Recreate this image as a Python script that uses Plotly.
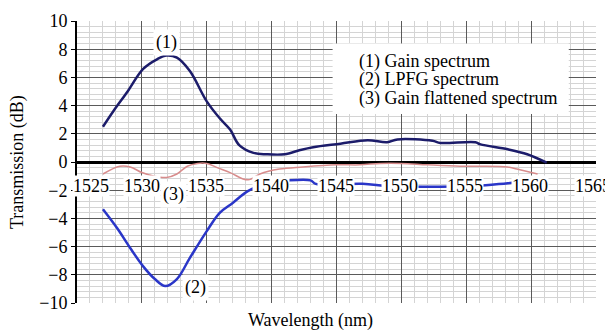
import plotly.graph_objects as go

# ---- data ----
gain_wl = [1527.0, 1527.8, 1528.9, 1530.1, 1531.2, 1531.9, 1532.7, 1533.7, 1535.0, 1536.0,
           1536.8, 1537.5, 1538.6, 1539.6, 1541.0, 1542.2, 1543.2, 1545.3, 1547.4, 1548.9,
           1549.7, 1552.4, 1553.0, 1555.7, 1556.1, 1558.2, 1559.7, 1561.2]
gain_db = [2.5, 3.6, 5.0, 6.6, 7.3, 7.55, 7.4, 6.45, 4.3, 3.1,
           2.3, 1.2, 0.65, 0.55, 0.55, 0.85, 1.05, 1.3, 1.55, 1.4,
           1.6, 1.5, 1.35, 1.4, 1.25, 0.9, 0.55, -0.05]

lpfg_wl = [1527.0, 1528.1, 1529.1, 1530.1, 1531.0, 1531.8, 1532.7, 1533.7, 1535.0, 1536.0,
           1537.0, 1538.2, 1539.5, 1541.4, 1543.0, 1543.4, 1547.0, 1549.0, 1552.0, 1553.0,
           1556.5, 1558.2, 1561.0]
lpfg_db = [-3.35, -4.7, -6.1, -7.4, -8.3, -8.8, -8.3, -6.8, -4.9, -3.6,
           -2.9, -2.05, -1.6, -1.3, -1.3, -1.55, -1.55, -1.7, -1.75, -1.75,
           -1.65, -1.5, -1.3]

flat_wl = [1527.0, 1528.3, 1529.1, 1530.0, 1530.9, 1531.9, 1532.7, 1533.5, 1534.3, 1535.0,
           1535.8, 1536.8, 1537.8, 1538.3, 1539.1, 1540.6, 1542.4, 1545.0, 1546.8, 1548.4,
           1550.0, 1552.0, 1554.5, 1556.0, 1558.2, 1558.9, 1560.5]
flat_db = [-0.85, -0.3, -0.35, -0.75, -1.0, -1.1, -0.85, -0.3, -0.1, -0.1,
           -0.4, -0.75, -1.2, -1.25, -0.85, -0.5, -0.35, -0.2, -0.2, -0.1,
           -0.1, -0.2, -0.3, -0.3, -0.35, -0.5, -0.85]

x_ticks = [1525, 1530, 1535, 1540, 1545, 1550, 1555, 1560, 1565]
x_tick_labels = ["1525", "1530", "1535", "1540", "1545", "1550", "1555", "1560", "1565"]
legend_lines = ["(1) Gain spectrum", "(2) LPFG spectrum", "(3) Gain flattened spectrum"]
curve_labels = ["(1)", "(2)", "(3)"]

FONT = "Liberation Serif, Times New Roman, serif"
FS = 18

fig = go.Figure()
fig.add_trace(go.Scatter(x=flat_wl, y=flat_db, mode="lines",
                         line=dict(color="#d88c8c", width=1.5, shape="spline"), showlegend=False))
fig.add_trace(go.Scatter(x=lpfg_wl, y=lpfg_db, mode="lines",
                         line=dict(color="#2a36c8", width=2.5, shape="spline"), showlegend=False))
fig.add_trace(go.Scatter(x=gain_wl, y=gain_db, mode="lines",
                         line=dict(color="#1c1c6a", width=2.5, shape="spline"), showlegend=False))

# legend box
fig.add_shape(type="rect", x0=1544.7, x1=1562.9, y0=3.4, y1=8.4, xref="x", yref="y",
              fillcolor="white", line=dict(width=0), layer="above")
for i, txt in enumerate(legend_lines):
    fig.add_annotation(x=1546.6, y=[7.16, 5.82, 4.47][i], xref="x", yref="y", text=txt,
                       showarrow=False, xanchor="left", yanchor="middle",
                       font=dict(family=FONT, size=FS, color="black"))

# curve labels
for lab, (lx, ly) in zip(curve_labels, [(1531.9, 8.5), (1534.1, -8.9), (1532.4, -2.3)]):
    fig.add_annotation(x=lx, y=ly, xref="x", yref="y", text=lab, showarrow=False,
                       bgcolor="white", borderpad=2,
                       font=dict(family=FONT, size=FS, color="black"))

# x tick labels placed inside the plot, just below the zero line
shifts = [14, 0, -1, -1, -1, -1, -1, -1, -3]
for t, lab, s in zip(x_ticks, x_tick_labels, shifts):
    fig.add_annotation(x=t, y=-1.7, xref="x", yref="y", text=lab, showarrow=False,
                       bgcolor="white", borderpad=0, xshift=s,
                       font=dict(family=FONT, size=FS, color="black"))

# axis titles
fig.add_annotation(x=(17 - 77) / 519, y=0.5, xref="paper", yref="paper",
                   text="Transmission (dB)", textangle=-90, showarrow=False,
                   xanchor="center", yanchor="middle",
                   font=dict(family=FONT, size=FS, color="black"))
fig.add_annotation(x=(310 - 77) / 519, y=(303 - 320) / 282, xref="paper", yref="paper",
                   text="Wavelength (nm)", showarrow=False,
                   xanchor="center", yanchor="middle",
                   font=dict(family=FONT, size=FS, color="black"))

fig.update_xaxes(range=[1525, 1565], tickmode="array", tickvals=x_ticks, showticklabels=False,
                 showgrid=True, gridcolor="#5a5a5a", gridwidth=1, zeroline=False,
                 showline=False, ticks="",
                 minor=dict(dtick=1, showgrid=True, gridcolor="#d4d4d4", gridwidth=1))
fig.update_yaxes(range=[-10, 10], dtick=2, showgrid=True, gridcolor="#5a5a5a", gridwidth=1,
                 zeroline=True, zerolinecolor="black", zerolinewidth=2.5,
                 showline=True, linecolor="black", linewidth=2,
                 ticks="outside", ticklen=4, tickcolor="black",
                 tickfont=dict(family=FONT, size=FS, color="black"),
                 minor=dict(dtick=0.4, showgrid=True, gridcolor="#d4d4d4", gridwidth=1))

# the page body adds an 8px offset; size/margins compensate for it
fig.update_layout(width=605, height=323,
                  margin=dict(l=69, r=17, t=13, b=28, autoexpand=False),
                  paper_bgcolor="white", plot_bgcolor="white", showlegend=False)

fig.write_html("out.html")
